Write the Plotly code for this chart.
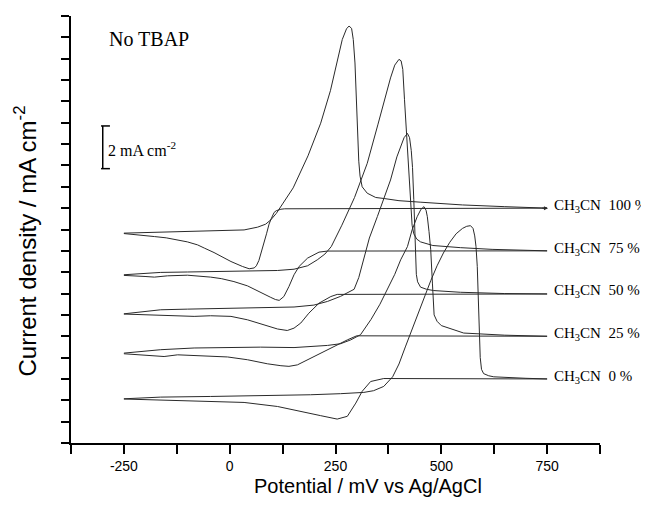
import plotly.graph_objects as go

# ---- data (potential in mV, current density in mA cm^-2 incl. vertical offset) ----
labels = ["CH<sub>3</sub>CN&nbsp; 100 %", "CH<sub>3</sub>CN&nbsp; 75 %", "CH<sub>3</sub>CN&nbsp; 50 %",
          "CH<sub>3</sub>CN&nbsp; 25 %", "CH<sub>3</sub>CN&nbsp; 0 %"]
offsets = [11, 9, 7, 5, 3]

E_100 = [-250, -200, -163, -100, -45, 0, 34, 66, 85, 97, 110, 125, 150, 185, 215, 238, 254, 266, 276, 282,
         288, 292, 296, 299, 302, 305, 308, 313, 325, 345, 365, 400, 450, 550, 650, 750,
         130, 121, 110, 105, 98, 93, 87, 81, 75, 69, 63, 58, 46, 30, 3, -20, -37, -60, -76, -100, -123,
         -150, -178, -210, -250]
J_100 = [9.83, 9.86, 9.88, 9.91, 9.94, 9.96, 9.98, 10.11, 10.25, 10.45, 10.75, 11.2, 11.95, 13.45, 14.98,
         16.5, 17.9, 18.9, 19.4, 19.53, 19.42, 18.9, 17.8, 16.3, 14.5, 13.2, 12.5, 12.0, 11.7, 11.5, 11.45,
         11.35, 11.28, 11.15, 11.07, 11.0,
         10.97, 10.95, 10.88, 10.8, 10.5, 10.25, 9.8, 9.36, 8.9, 8.55, 8.3, 8.2, 8.16, 8.27, 8.5, 8.75,
         8.92, 9.13, 9.28, 9.42, 9.52, 9.61, 9.67, 9.74, 9.81]

E_75 = [-250, -200, -163, -100, -45, 42, 113, 152, 184, 207, 225, 240, 265, 295, 325, 350, 368, 380, 390,
        400, 405, 409, 413, 418, 423, 427, 431, 435, 442, 451, 480, 545, 620, 750,
        231, 211, 184, 164, 152, 140, 128, 117, 108, 97, 73, 42, 10, -20, -45, -100, -147, -165, -178,
        -200, -250]
J_75 = [7.88, 7.95, 7.99, 8.01, 8.03, 8.05, 8.08, 8.14, 8.3, 8.58, 8.85, 9.2, 10.2, 11.5, 13.1, 14.9,
        16.3, 17.1, 17.7, 17.97, 17.9, 17.5, 16.1, 14.5, 12.6, 11.1, 10.2, 9.8, 9.55, 9.42, 9.25, 9.15,
        9.07, 9.0,
        8.99, 8.94, 8.66, 8.27, 7.88, 7.33, 6.86, 6.68, 6.72, 6.82, 7.05, 7.36, 7.56, 7.7, 7.77, 7.86,
        7.83, 7.78, 7.77, 7.8, 7.85]

E_50 = [-250, -163, -100, -45, 73, 152, 199, 231, 262, 294, 305, 317, 330, 349, 365, 380, 395, 404, 412,
        420, 425, 429, 432, 435, 437, 439, 441, 444, 451, 465, 482, 545, 650, 750,
        260, 254, 239, 211, 187, 168, 152, 136, 113, 81, 42, 3, -45, -84, -139, -194, -250]
J_50 = [6.05, 6.24, 6.27, 6.29, 6.32, 6.37, 6.46, 6.63, 6.87, 7.2, 7.75, 8.7, 9.6, 10.61, 11.5, 12.32,
        13.4, 13.88, 14.3, 14.5, 14.3, 13.7, 12.9, 11.4, 10.0, 8.8, 7.9, 7.55, 7.3, 7.2, 7.14, 7.06, 7.0,
        6.98,
        6.99, 6.96, 6.86, 6.55, 6.08, 5.62, 5.38, 5.27, 5.34, 5.54, 5.77, 5.93, 5.96, 5.93, 5.96, 5.99,
        6.04]

E_25 = [-250, -163, -84, -5, 73, 152, 191, 231, 262, 286, 309, 334, 355, 372, 390, 404, 420, 431, 443,
        452, 459, 464, 467, 471, 475, 479, 483, 490, 500, 553, 650, 750,
        300, 278, 246, 215, 184, 160, 140, 121, 89, 42, -5, -68, -123, -155, -202, -250]
J_25 = [4.21, 4.37, 4.45, 4.47, 4.49, 4.47, 4.52, 4.57, 4.65, 4.83, 5.07, 5.79, 6.5, 7.18, 7.9, 8.58,
        9.2, 9.98, 10.6, 10.95, 11.07, 10.9, 10.6, 9.9, 9.05, 7.49, 6.0, 5.7, 5.5, 5.15, 5.05, 5.0,
        5.02, 4.83, 4.52, 4.21, 3.9, 3.66, 3.59, 3.62, 3.71, 3.9, 4.03, 4.1, 4.13, 4.05, 4.12, 4.18]

E_0 = [-250, -163, -45, 73, 144, 191, 262, 317, 340, 364, 385, 400, 415, 430, 445, 460, 475, 490, 505,
       520, 535, 550, 560, 569, 575, 579, 582, 585, 589, 592, 595, 600, 612, 624, 700, 750,
       364, 333, 313, 298, 278, 254, 215, 168, 113, 34, -45, -163, -250]
J_0 = [2.07, 2.15, 2.18, 2.21, 2.23, 2.26, 2.31, 2.37, 2.45, 2.65, 3.1, 3.7, 4.5, 5.3, 6.1, 6.9, 7.6, 8.3,
       8.9, 9.4, 9.8, 10.05, 10.15, 10.18, 10.05, 9.7, 9.2, 8.27, 5.93, 4.0, 3.45, 3.25, 3.15, 3.1, 3.03,
       3.0,
       3.02, 2.88, 2.42, 1.87, 1.25, 1.12, 1.28, 1.48, 1.71, 1.9, 1.95, 1.99, 2.06]

series = [(E_100, J_100), (E_75, J_75), (E_50, J_50), (E_25, J_25), (E_0, J_0)]

x_range = [-375, 875]
y_range = [0, 20]
x_tickvals = [-250, 0, 250, 500, 750]
x_ticktext = ["-250", "0", "250", "500", "750"]

fig = go.Figure()
for E, J in series:
    fig.add_trace(go.Scatter(x=E, y=J, mode="lines", line=dict(color="#2a2a2a", width=1),
                             showlegend=False, hoverinfo="skip"))

serif = "Liberation Serif, Times New Roman, serif"
sans = "Liberation Sans, Arial, sans-serif"

# curve labels
for lab, off in zip(labels, offsets):
    fig.add_annotation(x=762, y=off + 0.1, text=lab, showarrow=False, xanchor="left", yanchor="middle",
                       font=dict(family=serif, size=15, color="black"))

# arrow head at end of 100 % curve
fig.add_annotation(x=752, y=11.0, ax=735, ay=11.0, xref="x", yref="y", axref="x", ayref="y",
                   text="", showarrow=True, arrowhead=2, arrowsize=0.8, arrowwidth=1, arrowcolor="#2a2a2a")

# "No TBAP"
fig.add_annotation(x=-290, y=18.9, text="No TBAP", showarrow=False, xanchor="left", yanchor="middle",
                   font=dict(family=serif, size=20, color="black"))

# scale bar
bar_x, bar_lo, bar_hi = -300, 12.85, 14.85
fig.add_shape(type="line", x0=bar_x, x1=bar_x, y0=bar_lo, y1=bar_hi, line=dict(color="black", width=1.5))
fig.add_shape(type="line", x0=bar_x - 4, x1=bar_x + 17, y0=bar_lo, y1=bar_lo, line=dict(color="black", width=1.5))
fig.add_shape(type="line", x0=bar_x - 4, x1=bar_x + 17, y0=bar_hi, y1=bar_hi, line=dict(color="black", width=1.5))
fig.add_annotation(x=-292, y=13.75, text="2 mA cm<sup>-2</sup>", showarrow=False, xanchor="left",
                   yanchor="middle", font=dict(family=serif, size=16, color="black"))

# axis titles
fig.add_annotation(xref="paper", yref="paper", x=0.562, y=-0.1, text="Potential / mV vs Ag/AgCl",
                   showarrow=False, xanchor="center", yanchor="middle",
                   font=dict(family=sans, size=20, color="black"))
fig.add_annotation(xref="paper", yref="paper", x=-0.086, y=0.473, text="Current density / mA cm<sup>-2</sup>",
                   showarrow=False, xanchor="center", yanchor="middle", textangle=-90,
                   font=dict(family=sans, size=24, color="black"))

fig.update_xaxes(range=x_range, tickvals=x_tickvals, ticktext=x_ticktext, showline=True,
                 linecolor="black", linewidth=2, ticks="outside", ticklen=9, tickwidth=2,
                 tickcolor="black", showgrid=False, zeroline=False,
                 minor=dict(tick0=-375, dtick=125, ticks="outside", ticklen=9, tickwidth=2,
                            tickcolor="black", showgrid=False),
                 tickfont=dict(family=sans, size=14, color="black"))
fig.update_yaxes(range=y_range, tick0=0, dtick=1, showticklabels=False, showline=True,
                 linecolor="black", linewidth=2, ticks="outside", ticklen=8, tickwidth=2,
                 tickcolor="black", showgrid=False, zeroline=False)

# page body has an 8 px default margin; size the figure so the plot area lands where the reference has it
fig.update_layout(width=641, height=497, margin=dict(l=63, r=49, t=8, b=62),
                  plot_bgcolor="white", paper_bgcolor="white")

fig.write_html("out.html")
